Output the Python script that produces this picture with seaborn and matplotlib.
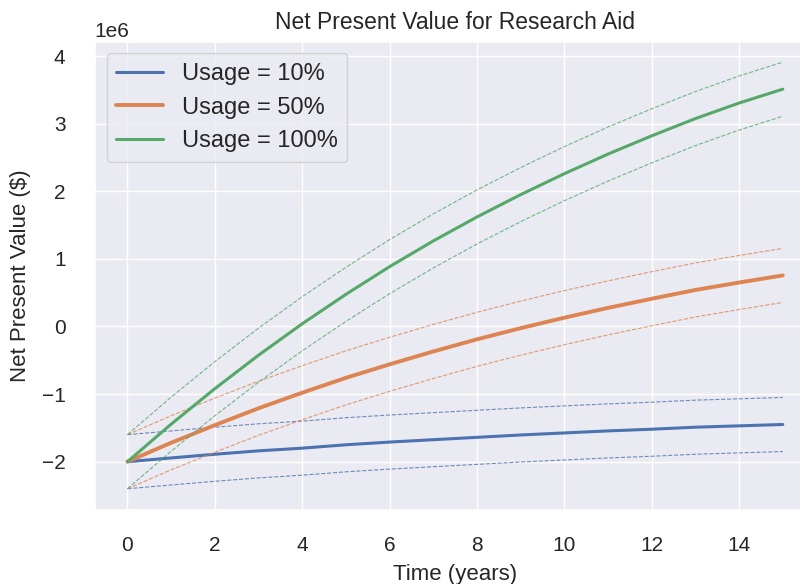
import matplotlib
matplotlib.use("Agg")
import numpy as np
import pandas as pd
import matplotlib.pyplot as plt
import seaborn as sns

# ---- data (values in millions of $) ----
years = list(range(16))
usage_labels = ["Usage = 10%", "Usage = 50%", "Usage = 100%"]
npv_usage_10 = [-2.00, -1.945, -1.89, -1.84, -1.80, -1.75, -1.71, -1.675,
                -1.64, -1.605, -1.575, -1.545, -1.52, -1.49, -1.47, -1.45]
npv_usage_50 = [-2.00, -1.72, -1.46, -1.21, -0.98, -0.76, -0.56, -0.37,
                -0.19, -0.025, 0.13, 0.275, 0.41, 0.54, 0.65, 0.755]
npv_usage_100 = [-2.00, -1.445, -0.92, -0.425, 0.04, 0.475, 0.885, 1.265,
                 1.62, 1.95, 2.26, 2.55, 2.82, 3.075, 3.305, 3.51]
band_halfwidth = [0.40, 0.40, 0.40]   # dashed bounds around each line
scale = 1e6

series = [npv_usage_10, npv_usage_50, npv_usage_100]

sns.set_theme(style="darkgrid")
plt.rcParams["font.family"] = ["Liberation Sans", "DejaVu Sans"]
palette = sns.color_palette("deep")
main_lw = [2.2, 2.8, 2.2]

fig = plt.figure(figsize=(8, 5.84), dpi=100)
ax = fig.add_axes([0.1184, 0.1267, 0.901, 0.8022])

for i, (label, vals) in enumerate(zip(usage_labels, series)):
    vals = np.array(vals) * scale
    half = band_halfwidth[i] * scale
    df = pd.DataFrame({"Time": years, "NPV": vals,
                       "Upper": vals + half, "Lower": vals - half})
    sns.lineplot(data=df, x="Time", y="Upper", color=palette[i], lw=0.8,
                 linestyle="--", alpha=0.8, ax=ax, legend=False)
    sns.lineplot(data=df, x="Time", y="Lower", color=palette[i], lw=0.8,
                 linestyle="--", alpha=0.8, ax=ax, legend=False)
    sns.lineplot(data=df, x="Time", y="NPV", color=palette[i], lw=main_lw[i],
                 label=label, ax=ax)

ax.set_xlim(-0.75, 15.75)
ax.set_ylim(-2.715e6, 4.215e6)
ax.set_title("Net Present Value for Research Aid", fontsize=16.5, pad=9)
ax.set_xlabel("Time (years)", fontsize=16, labelpad=6)
ax.set_ylabel(r"Net Present Value (\$)", fontsize=16, labelpad=8)
ax.tick_params(axis="x", labelsize=15, pad=13)
ax.tick_params(axis="y", labelsize=15, pad=15)
ax.yaxis.get_offset_text().set_fontsize(15)
ax.legend(loc="upper left", fontsize=17)

fig.savefig("out.png", dpi=100)
